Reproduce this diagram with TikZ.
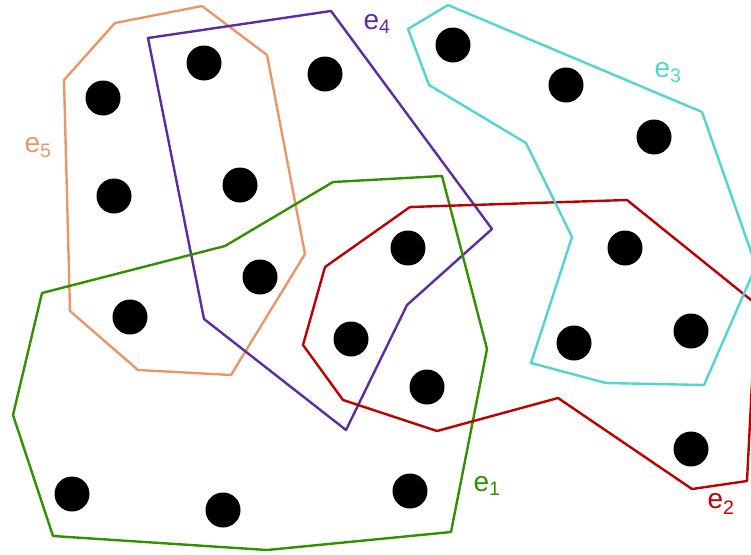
\documentclass[tikz,border=0pt]{standalone}
\usepackage{fontspec}
\setmainfont{Liberation Sans}
\usepackage{tikz}
\definecolor{eone}{RGB}{51,145,0}
\definecolor{etwo}{RGB}{190,0,0}
\definecolor{ethree}{RGB}{80,214,208}
\definecolor{efour}{RGB}{92,44,160}
\definecolor{efive}{RGB}{234,150,104}

\begin{document}
\begin{tikzpicture}[
    x=1pt, y=-1pt,
    vertex/.style={
        circle,
        fill=black,
        minimum size=35pt,
        inner sep=0pt
    },
    hedge/.style={line width=2.4pt, line join=round},
    elabel/.style={font=\fontsize{28}{32}\selectfont, inner sep=0pt}
]
\useasboundingbox (0,0) rectangle (751,554);

\begin{scope}
\clip (0,0) rectangle (751,554);
\draw[hedge, efive] (64,80) -- (115,23) -- (202,6) -- (267,55) -- (305,254)
    -- (231,375) -- (138,370) -- (70,311) -- cycle;
\draw[hedge, efour] (148,38) -- (331,11) -- (492,229) -- (407,305)
    -- (346,430) -- (204,319) -- cycle;
\draw[hedge, eone] (42,293) -- (225,246) -- (333,182) -- (442,176) -- (487,349)
    -- (451,532) -- (267,550) -- (53,536) -- (13,415) -- cycle;
\draw[hedge, etwo] (325,267) -- (410,207) -- (627,200) -- (756,304) -- (747,481)
    -- (692,489) -- (558,398) -- (437,431) -- (343,400) -- (303,345) -- cycle;
\draw[hedge, ethree] (448,5) -- (702,112) -- (756,266) -- (704,385) -- (606,383)
    -- (531,363) -- (572,237) -- (526,143) -- (429,85) -- (408,29) -- cycle;
\end{scope}

% vertices
\node[vertex] (v1) at (103,98) {};
\node[vertex] (v2) at (204,63) {};
\node[vertex] (v3) at (325,74) {};
\node[vertex] (v4) at (114,196) {};
\node[vertex] (v5) at (240,185) {};
\node[vertex] (v6) at (130,317) {};
\node[vertex] (v7) at (260,277) {};
\node[vertex] (v8) at (351,339) {};
\node[vertex] (v9) at (72,494) {};
\node[vertex] (v10) at (223,510) {};
\node[vertex] (v11) at (453,45) {};
\node[vertex] (v12) at (566,85) {};
\node[vertex] (v13) at (654,137) {};
\node[vertex] (v14) at (408,248) {};
\node[vertex] (v15) at (625,248) {};
\node[vertex] (v16) at (427,387) {};
\node[vertex] (v17) at (410,491) {};
\node[vertex] (v18) at (574,343) {};
\node[vertex] (v19) at (691,331) {};
\node[vertex] (v20) at (691,449) {};

% hyperedge labels
\node[elabel, efour] (l4) at (377,24) {e\textsubscript{4}};
\node[elabel, ethree] (l3) at (668,73) {e\textsubscript{3}};
\node[elabel, efive] (l5) at (38,148) {e\textsubscript{5}};
\node[elabel, eone] (l1) at (487,486) {e\textsubscript{1}};
\node[elabel, etwo] (l2) at (721,504) {e\textsubscript{2}};
\end{tikzpicture}
\end{document}
